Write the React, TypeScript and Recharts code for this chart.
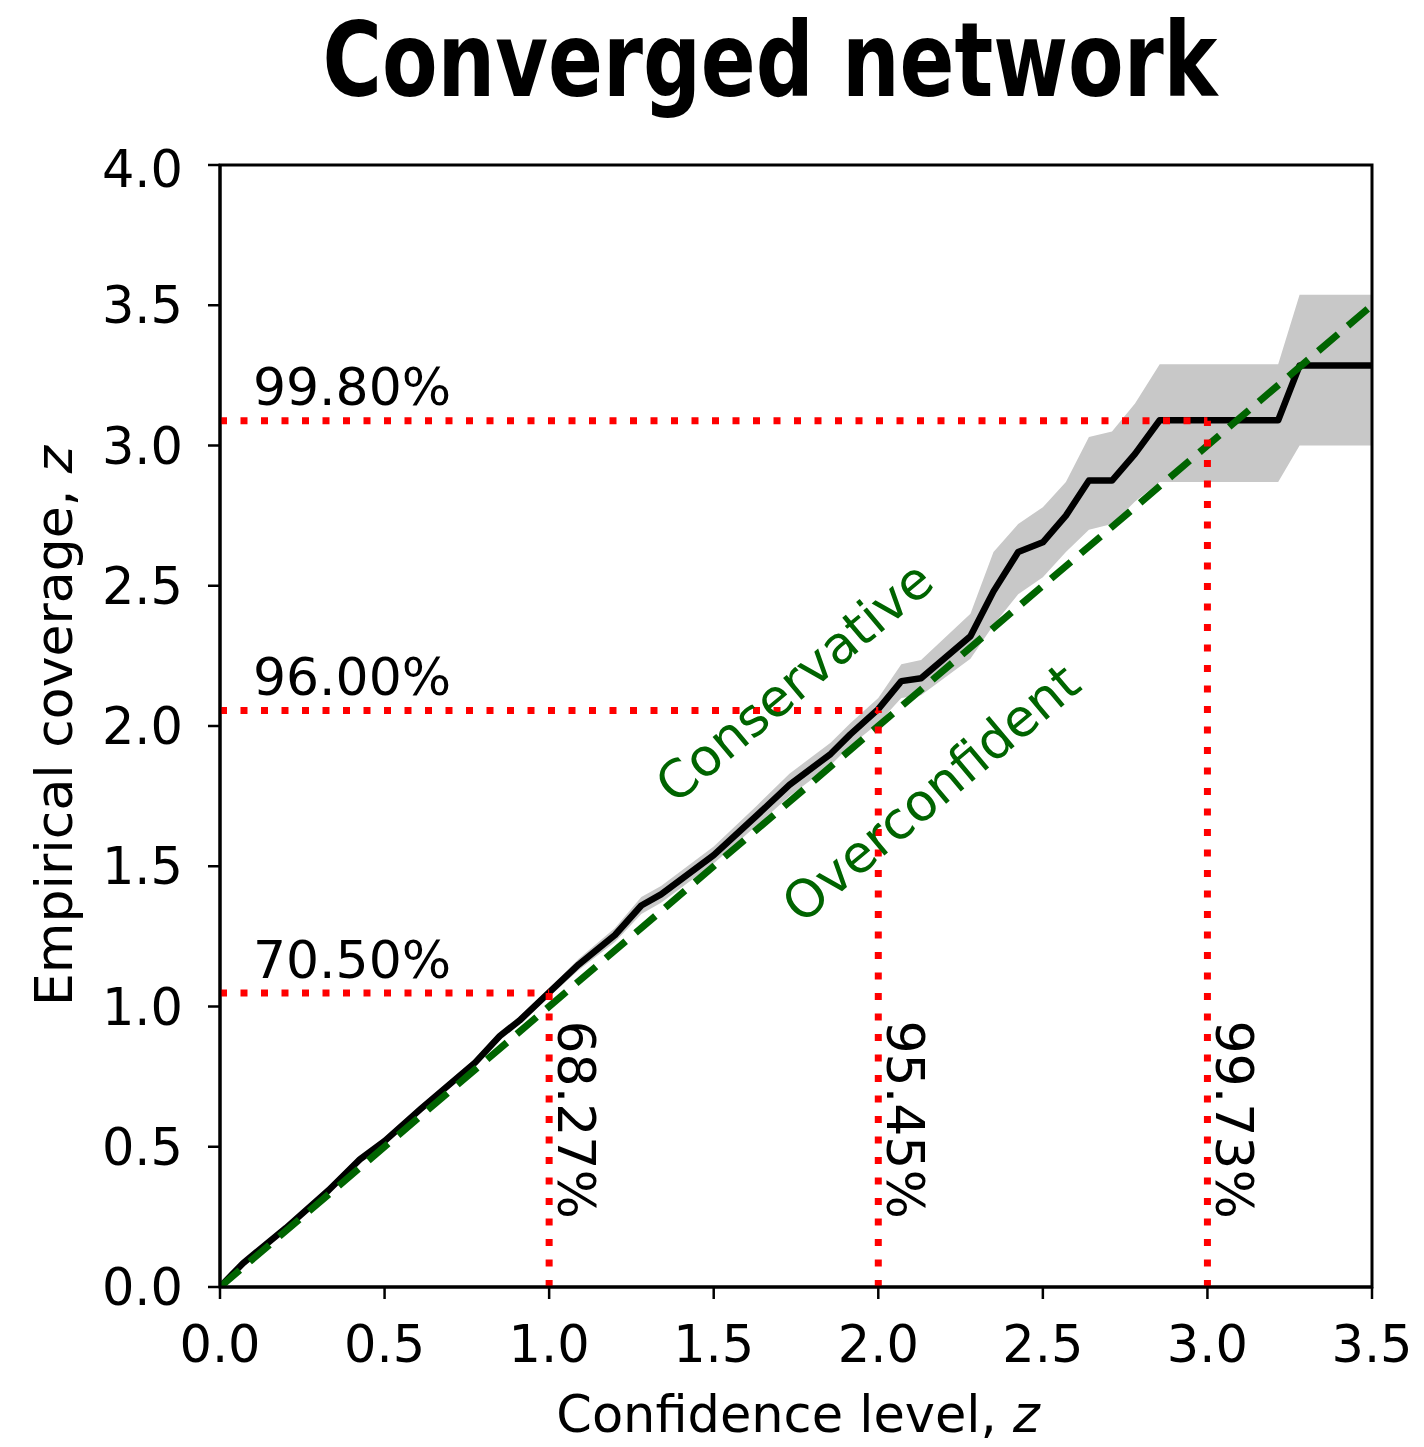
import React from 'react';
import {
  ComposedChart,
  Line,
  Area,
  XAxis,
  YAxis,
  ReferenceLine,
  ReferenceArea,
  Scatter,
} from 'recharts';

// ---- data ----
const zLevels = [
  0, 0.07, 0.2, 0.33, 0.425, 0.5, 0.61, 0.775, 0.85, 0.91, 1.0, 1.09, 1.2, 1.28, 1.34, 1.5, 1.63,
  1.73, 1.855, 1.915, 2.0, 2.07, 2.13, 2.28, 2.35, 2.425, 2.5, 2.57, 2.64, 2.71, 2.78, 2.855, 3.215,
  3.28, 3.5,
];
const coverage = [
  0, 0.085, 0.21, 0.345, 0.455, 0.52, 0.635, 0.8, 0.895, 0.95, 1.05, 1.15, 1.255, 1.36, 1.4, 1.54,
  1.68, 1.79, 1.9, 1.97, 2.06, 2.16, 2.17, 2.32, 2.48, 2.62, 2.655, 2.75, 2.875, 2.875, 2.97, 3.09,
  3.09, 3.285, 3.285,
];
const coverageLow = [
  0, 0.075, 0.2, 0.335, 0.44, 0.505, 0.62, 0.785, 0.88, 0.935, 1.035, 1.13, 1.23, 1.33, 1.37, 1.51,
  1.645, 1.75, 1.86, 1.93, 2.01, 2.1, 2.11, 2.24, 2.36, 2.47, 2.53, 2.62, 2.7, 2.72, 2.8, 2.87, 2.87,
  3.0, 3.0,
];
const coverageHigh = [
  0, 0.095, 0.22, 0.36, 0.47, 0.535, 0.65, 0.815, 0.91, 0.965, 1.065, 1.17, 1.28, 1.39, 1.43, 1.57,
  1.715, 1.83, 1.94, 2.01, 2.1, 2.22, 2.235, 2.4, 2.62, 2.72, 2.78, 2.87, 3.03, 3.05, 3.15, 3.29,
  3.29, 3.537, 3.537,
];

const idealX = [0, 3.5];
const idealY = [0, 3.5];

const markerX = [1.0, 2.0, 3.0];
const markerY = [1.048, 2.055, 3.088];
const expectedLabels = ['68.27%', '95.45%', '99.73%'];
const empiricalLabels = ['70.50%', '96.00%', '99.80%'];

const regionLabels = ['Conservative', 'Overconfident'];
const regionX = [1.745, 2.16];
const regionY = [2.157, 1.761];

const xTicks = [0, 0.5, 1.0, 1.5, 2.0, 2.5, 3.0, 3.5];
const yTicks = [0, 0.5, 1.0, 1.5, 2.0, 2.5, 3.0, 3.5, 4.0];

const TITLE = 'Converged network';

// ---- derived tables ----
const curveData = zLevels.map((x, i) => ({
  x,
  y: coverage[i],
  band: [coverageLow[i], coverageHigh[i]],
}));
const idealData = idealX.map((x, i) => ({ x, y: idealY[i] }));
const empiricalLabelData = markerX.map((_, i) => ({
  x: 0.1,
  y: markerY[i] + 0.055,
  text: empiricalLabels[i],
}));
const expectedLabelData = markerX.map((x, i) => ({
  x: x + 0.027,
  y: 0.95,
  text: expectedLabels[i],
}));
const regionData = regionLabels.map((t, i) => ({ x: regionX[i], y: regionY[i], text: t }));

const FONT = '"DejaVu Sans", sans-serif';
const FS = 51;
const LFS = 52;
const TITLE_H = 140;

const HLabel = (props: any) => (
  <text x={props.cx} y={props.cy} fontFamily={FONT} fontSize={LFS} fill="#000" textAnchor="start">
    {props.payload.text}
  </text>
);
const VLabel = (props: any) => (
  <text
    x={props.cx}
    y={props.cy}
    fontFamily={FONT}
    fontSize={LFS}
    fill="#000"
    textAnchor="start"
    transform={`rotate(90, ${props.cx}, ${props.cy})`}
  >
    {props.payload.text}
  </text>
);
const RegionLabel = (props: any) => (
  <text
    x={props.cx}
    y={props.cy}
    fontFamily={FONT}
    fontSize={52}
    fill="#006400"
    textAnchor="middle"
    dominantBaseline="central"
    transform={`rotate(-40, ${props.cx}, ${props.cy})`}
  >
    {props.payload.text}
  </text>
);

export default function App() {
  return (
    <div style={{ position: 'absolute', left: 0, top: 0, width: 1424, height: 1447, background: '#fff' }}>
      <svg width={1424} height={TITLE_H} style={{ position: 'absolute', left: 0, top: 0, display: 'block' }}>
        <g transform="translate(770, 96) scale(0.9, 1.04)">
          <text
            x={0}
            y={0}
            textAnchor="middle"
            fontFamily='"DejaVu Sans Condensed", "DejaVu Sans", sans-serif'
            fontWeight={700}
            fontSize={100}
            fill="#000"
          >
            {TITLE}
          </text>
        </g>
      </svg>
      <div style={{ position: 'absolute', left: 0, top: TITLE_H }}>
        <ComposedChart
          width={1424}
          height={1447 - TITLE_H}
          data={curveData}
          margin={{ top: 165 - TITLE_H, right: 52, left: 0, bottom: 0 }}
        >
          <XAxis
            dataKey="x"
            type="number"
            domain={[0, 3.5]}
            ticks={xTicks}
            allowDataOverflow
            height={160}
            tickFormatter={(v: number) => v.toFixed(1)}
            tick={{ fontSize: FS, fill: '#000', fontFamily: FONT }}
            tickSize={12}
            tickMargin={27}
            axisLine={{ stroke: '#000', strokeWidth: 3 }}
            tickLine={{ stroke: '#000', strokeWidth: 2.5 }}
            label={{
              content: (p: any) => {
                const vb = p.viewBox;
                return (
                  <text
                    x={vb.x + vb.width / 2 + 2}
                    y={vb.y + 145}
                    textAnchor="middle"
                    fontFamily={FONT}
                    fontSize={51}
                    fill="#000"
                  >
                    Confidence level, <tspan fontStyle="italic">z</tspan>
                  </text>
                );
              },
            }}
          />
          <YAxis
            type="number"
            domain={[0, 4]}
            ticks={yTicks}
            allowDataOverflow
            width={220}
            tickFormatter={(v: number) => v.toFixed(1)}
            tick={{ fontSize: FS, fill: '#000', fontFamily: FONT }}
            tickSize={12}
            tickMargin={25}
            axisLine={{ stroke: '#000', strokeWidth: 3 }}
            tickLine={{ stroke: '#000', strokeWidth: 2.5 }}
            label={{
              content: (p: any) => {
                const vb = p.viewBox;
                const cx = vb.x + 72;
                const cy = vb.y + vb.height / 2;
                return (
                  <text
                    x={cx}
                    y={cy}
                    textAnchor="middle"
                    fontFamily={FONT}
                    fontSize={LFS}
                    fill="#000"
                    transform={`rotate(-90, ${cx}, ${cy})`}
                  >
                    Empirical coverage, <tspan fontStyle="italic">z</tspan>
                  </text>
                );
              },
            }}
          />
          <Area
            dataKey="band"
            type="linear"
            stroke="none"
            fill="#c8c8c8"
            fillOpacity={1}
            isAnimationActive={false}
            activeDot={false}
          />
          <Line
            dataKey="y"
            type="linear"
            stroke="#000"
            strokeWidth={6.5}
            strokeLinejoin="round"
            dot={false}
            activeDot={false}
            isAnimationActive={false}
          />
          <Line
            data={idealData}
            dataKey="y"
            type="linear"
            stroke="#006400"
            strokeWidth={7}
            strokeDasharray="26 13"
            dot={false}
            activeDot={false}
            isAnimationActive={false}
          />
          {markerX.map((mx, i) => (
            <ReferenceLine
              key={`h${i}`}
              segment={[
                { x: 0, y: markerY[i] },
                { x: mx, y: markerY[i] },
              ]}
              stroke="#ff0000"
              strokeWidth={7}
              strokeDasharray="7 13.5"
            />
          ))}
          {markerX.map((mx, i) => (
            <ReferenceLine
              key={`v${i}`}
              segment={[
                { x: mx, y: 0 },
                { x: mx, y: markerY[i] },
              ]}
              stroke="#ff0000"
              strokeWidth={7}
              strokeDasharray="7 13.5"
            />
          ))}
          <ReferenceArea x1={0} x2={3.5} y1={0} y2={4} fill="none" stroke="#000" strokeWidth={3} />
          <Scatter data={empiricalLabelData} dataKey="y" shape={HLabel} isAnimationActive={false} />
          <Scatter data={expectedLabelData} dataKey="y" shape={VLabel} isAnimationActive={false} />
          <Scatter data={regionData} dataKey="y" shape={RegionLabel} isAnimationActive={false} />
        </ComposedChart>
      </div>
    </div>
  );
}
